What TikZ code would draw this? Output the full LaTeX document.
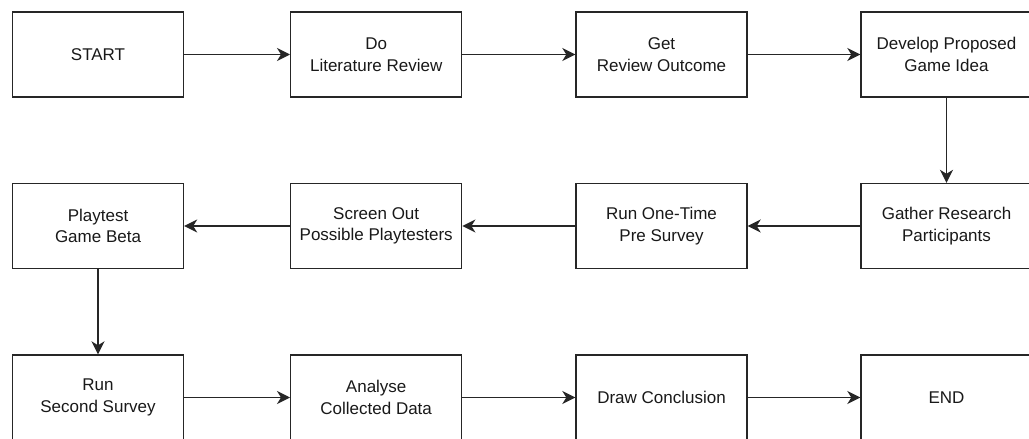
\documentclass[tikz,border=0pt]{standalone}
\usepackage{fontspec}
\setmainfont{Liberation Sans}
\usetikzlibrary{arrows.meta}
\tikzset{
  stepbox/.style={draw=black!85, line width=1.4pt, minimum width=171pt, minimum height=85pt,
    inner sep=0pt, align=center, text=black!90, font=\fontsize{17}{21.5}\selectfont},
  conn/.style={draw=black!85, line width=1.4pt, -{Stealth[length=13pt,width=13pt,inset=4pt]}}
}
\begin{document}
\begin{tikzpicture}[x=1pt,y=-1pt]
\useasboundingbox (0,0) rectangle (1029,439);
\clip (0,0) rectangle (1029,439);
\fill[white] (0,0) rectangle (1029,439);
% row 1
\node[stepbox] (start) at (98,54.5) {START};
\node[stepbox] (lit) at (376.2,54.5) {Do\\Literature Review};
\node[stepbox] (out) at (661.5,54.5) {Get\\Review Outcome};
\node[stepbox] (dev) at (946.5,54.5) {Develop Proposed\\Game Idea};
% row 2
\node[stepbox] (gather) at (946.5,226) {Gather Research\\Participants};
\node[stepbox] (pre) at (661.5,226) {Run One-Time\\Pre Survey};
\node[stepbox] (screen) at (376.2,226) {Screen Out\\Possible Playtesters};
\node[stepbox] (play) at (98,226) {Playtest\\Game Beta};
% row 3
\node[stepbox] (second) at (98,397.5) {Run\\Second Survey};
\node[stepbox] (anal) at (376.2,397.5) {Analyse\\Collected Data};
\node[stepbox] (concl) at (661.5,397.5) {Draw Conclusion};
\node[stepbox] (end) at (946.5,397.5) {END};
% connectors
\draw[conn] (start) -- (lit);
\draw[conn] (lit) -- (out);
\draw[conn] (out) -- (dev);
\draw[conn] (dev) -- (gather);
\draw[conn] (gather) -- (pre);
\draw[conn] (pre) -- (screen);
\draw[conn] (screen) -- (play);
\draw[conn] (play) -- (second);
\draw[conn] (second) -- (anal);
\draw[conn] (anal) -- (concl);
\draw[conn] (concl) -- (end);
\end{tikzpicture}
\end{document}
